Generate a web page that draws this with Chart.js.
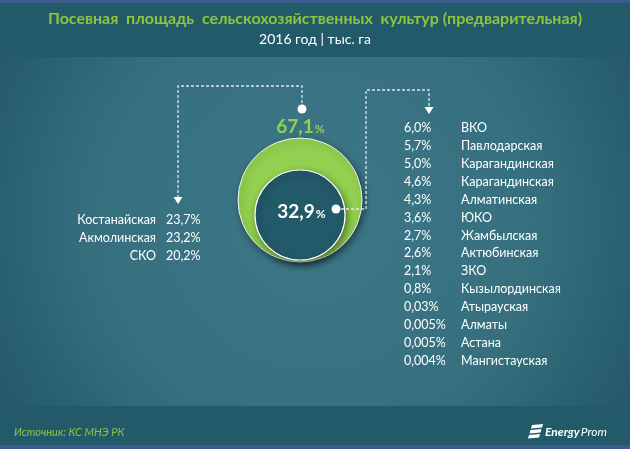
<!DOCTYPE html>
<html lang="ru">
<head>
<meta charset="UTF-8" />
<title>Посевная площадь</title>
<script src="https://cdn.jsdelivr.net/npm/chart.js@4.4.0/dist/chart.umd.min.js"></script>
<style>
  html, body { margin: 0; padding: 0; background: #225a69; }
  #wrap { width: 630px; height: 449px; }
</style>
</head>
<body>
<div id="wrap"><canvas id="myChart" width="630" height="449"></canvas></div>
<script>
// данные
const titleText = "Посевная  площадь  сельскохозяйственных  культур (предварительная)";
const subtitleText = "2016 год | тыс. га";
const sourceText = "Источник: КС МНЭ РК";

const shareLabels = ["Север", "Остальные"];
const shareValues = [67.1, 32.9];

const leftRegions = ["Костанайская", "Акмолинская", "СКО"];
const leftValues = [23.7, 23.2, 20.2];

const rightRegions = ["ВКО", "Павлодарская", "Карагандинская", "Карагандинская", "Алматинская", "ЮКО",
  "Жамбылская", "Актюбинская", "ЗКО", "Кызылординская", "Атырауская", "Алматы", "Астана", "Мангистауская"];
const rightValues = [6.0, 5.7, 5.0, 4.6, 4.3, 3.6, 2.7, 2.6, 2.1, 0.8, 0.03, 0.005, 0.005, 0.004];

const GREEN = "#92d050";
const DARK = "#235a69";
const FONT = "Lato, 'Open Sans', sans-serif";

function fmt(v) {
  var s = v >= 0.1 ? v.toFixed(1) : String(v);
  return s.replace(".", ",") + "%";
}

// фон, шапка, подвал
const bgPlugin = {
  id: "bg",
  beforeDraw(chart) {
    const c = chart.ctx;
    c.save();
    const g = c.createRadialGradient(315, 220, 20, 315, 220, 380);
    g.addColorStop(0, "#3d7787");
    g.addColorStop(0.55, "#36707f");
    g.addColorStop(1, "#215666");
    c.fillStyle = g;
    c.fillRect(0, 0, 630, 449);
    c.fillStyle = "#225a69";
    c.fillRect(0, 0, 630, 57);
    c.fillRect(0, 406, 630, 40);
    c.fillStyle = "#3b5c8c";
    c.fillRect(0, 0, 630, 3);
    c.fillRect(0, 445, 630, 4);

    c.textAlign = "center";
    c.textBaseline = "middle";
    c.fillStyle = "#8cc63f";
    c.font = "bold 16px " + FONT;
    c.fillText(titleText, 315, 19);
    c.fillStyle = "#ffffff";
    c.font = "14px " + FONT;
    c.fillText(subtitleText, 315, 39);

    c.textAlign = "left";
    c.fillStyle = "#8cc63f";
    c.font = "italic 11px " + FONT;
    c.fillText(sourceText, 14, 432);

    // логотип
    c.fillStyle = "#ffffff";
    c.font = "italic bold 12px " + FONT;
    c.fillText("Energy", 545, 432);
    const ew = c.measureText("Energy").width;
    c.font = "italic 12px " + FONT;
    c.fillText("Prom", 545 + ew + 1, 432);
    for (let i = 0; i < 3; i++) {
      c.beginPath();
      c.moveTo(532 - i * 1.5, 425 + i * 5);
      c.lineTo(543 - i * 1.5, 424 + i * 5);
      c.lineTo(542 - i * 1.5, 427.5 + i * 5);
      c.lineTo(531 - i * 1.5, 428.5 + i * 5);
      c.closePath();
      c.fill();
    }
    c.restore();
  },
  beforeDatasetsDraw(chart) {
    chart.ctx.save();
    chart.ctx.shadowColor = "rgba(0,0,0,0.45)";
    chart.ctx.shadowBlur = 7;
    chart.ctx.shadowOffsetX = 2;
    chart.ctx.shadowOffsetY = 3;
  },
  afterDatasetsDraw(chart) {
    chart.ctx.restore();
    const c = chart.ctx;
    const xs = chart.scales.x, ys = chart.scales.y;
    const d0 = chart.data.datasets[0].data[0];
    const d1 = chart.data.datasets[1].data[0];
    const cx = xs.getPixelForValue(d0.x);
    const topY = ys.getPixelForValue(d0.y) - d0.r;
    const ix = xs.getPixelForValue(d1.x), iy = ys.getPixelForValue(d1.y);

    c.save();
    // подписи долей
    function bigLabel(v, x, y, color) {
      const num = v.toFixed(1).replace(".", ",");
      c.font = "bold 19px " + FONT;
      const w1 = c.measureText(num).width;
      c.font = "bold 12px " + FONT;
      const w2 = c.measureText("%").width;
      const x0 = x - (w1 + w2) / 2;
      c.fillStyle = color;
      c.textAlign = "left";
      c.textBaseline = "alphabetic";
      c.font = "bold 19px " + FONT;
      c.fillText(num, x0, y);
      c.font = "bold 12px " + FONT;
      c.fillText("%", x0 + w1 + 1, y);
    }
    bigLabel(shareValues[0], cx, topY - 5, GREEN);
    bigLabel(shareValues[1], ix + 1, iy + 3, "#ffffff");

    // пунктирные выноски
    c.strokeStyle = "rgba(235,242,245,0.9)";
    c.lineWidth = 1.3;
    c.setLineDash([3, 2]);
    c.beginPath();
    c.moveTo(cx + 2, topY - 30);
    c.lineTo(cx + 2, 86);
    c.lineTo(178, 86);
    c.lineTo(178, 197);
    c.stroke();
    const dotRx = ix + 36;
    c.beginPath();
    c.moveTo(dotRx, iy - 6);
    c.lineTo(366, iy - 6);
    c.lineTo(366, 90);
    c.lineTo(429, 90);
    c.lineTo(429, 107);
    c.stroke();
    c.setLineDash([]);

    c.fillStyle = "#ffffff";
    c.beginPath();
    c.arc(cx + 2, topY - 29, 4.5, 0, Math.PI * 2);
    c.fill();
    c.beginPath();
    c.arc(dotRx, iy - 6, 4.5, 0, Math.PI * 2);
    c.fill();
    function arrow(x, y) {
      c.beginPath();
      c.moveTo(x - 4.5, y - 7);
      c.lineTo(x + 4.5, y - 7);
      c.lineTo(x, y);
      c.closePath();
      c.fill();
    }
    arrow(178, 204);
    arrow(429, 114);

    // списки регионов
    c.font = "12.5px " + FONT;
    c.textBaseline = "middle";
    c.fillStyle = "#ffffff";
    leftRegions.forEach(function (name, i) {
      const y = 220 + i * 18;
      c.textAlign = "right";
      c.fillText(name, 156, y);
      c.textAlign = "left";
      c.fillText(fmt(leftValues[i]), 166, y);
    });
    rightRegions.forEach(function (name, i) {
      const y = 128 + i * 17.92;
      c.textAlign = "left";
      c.fillText(fmt(rightValues[i]), 404, y);
      c.fillText(name, 461, y);
    });
    c.restore();
  }
};

const ctx = document.getElementById("myChart").getContext("2d");
const myChart = new Chart(ctx, {
  type: "bubble",
  data: {
    labels: shareLabels,
    datasets: [
      {
        label: shareLabels[0],
        data: [{ x: 0, y: 0, r: 62 }],
        backgroundColor: GREEN,
        borderColor: "#eef6ea",
        borderWidth: 1,
        hoverRadius: 0,
        order: 2
      },
      {
        label: shareLabels[1],
        data: [{ x: 0, y: -15, r: 45 }],
        backgroundColor: DARK,
        borderColor: "#ffffff",
        borderWidth: 1.2,
        hoverRadius: 0,
        order: 1
      }
    ]
  },
  plugins: [bgPlugin],
  options: {
    responsive: false,
    animation: false,
    events: [],
    layout: { padding: { left: 200, right: 230, top: 100, bottom: 149 } },
    plugins: {
      legend: { display: false },
      tooltip: { enabled: false },
      title: { display: false }
    },
    scales: {
      x: { display: false, min: -100, max: 100 },
      y: { display: false, min: -100, max: 100 }
    }
  }
});
</script>
</body>
</html>
